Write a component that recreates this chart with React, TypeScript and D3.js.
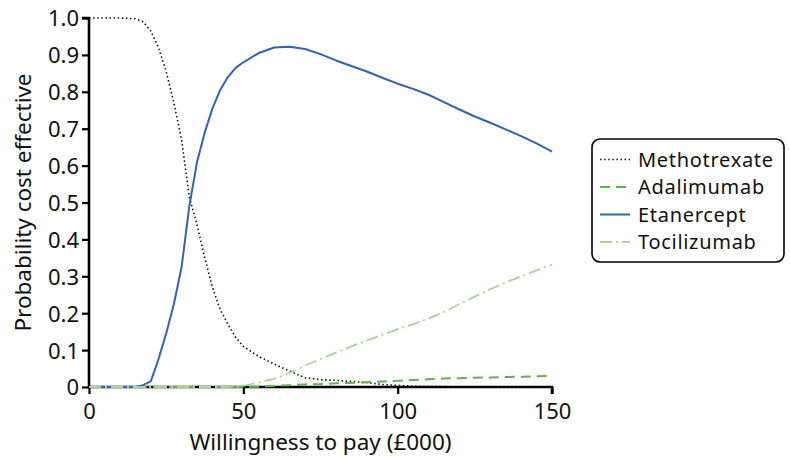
import React, { useEffect, useRef } from "react";
import * as d3 from "d3";

// willingness to pay (£000)
const wtp = [0, 5, 10, 15, 17.5, 20, 22.5, 25, 27.5, 30, 32.5, 35, 37.5, 40, 42.5, 45, 47.5, 50, 55, 60, 65, 70, 75, 80, 85, 90, 95, 100, 105, 110, 115, 120, 125, 130, 135, 140, 145, 150];

const methotrexate = [1, 1, 1, 0.998, 0.99, 0.965, 0.92, 0.855, 0.77, 0.67, 0.515, 0.44, 0.35, 0.27, 0.21, 0.17, 0.135, 0.11, 0.083, 0.062, 0.043, 0.025, 0.02, 0.018, 0.015, 0.012, 0.007, 0.004, 0.002, 0.001, 0.001, 0, 0, 0, 0, 0, 0, 0];
const adalimumab = [0, 0, 0, 0, 0, 0, 0, 0, 0, 0, 0, 0, 0, 0, 0, 0, 0, 0, 0.001, 0.003, 0.005, 0.007, 0.008, 0.01, 0.011, 0.013, 0.015, 0.017, 0.019, 0.021, 0.023, 0.024, 0.025, 0.026, 0.027, 0.028, 0.029, 0.03];
const etanercept = [0, 0, 0, 0, 0.005, 0.015, 0.075, 0.145, 0.225, 0.325, 0.49, 0.61, 0.69, 0.755, 0.805, 0.84, 0.865, 0.88, 0.905, 0.92, 0.922, 0.916, 0.902, 0.885, 0.87, 0.855, 0.838, 0.822, 0.808, 0.792, 0.772, 0.752, 0.733, 0.716, 0.698, 0.68, 0.66, 0.638];
const tocilizumab = [0, 0, 0, 0, 0, 0, 0, 0, 0, 0, 0, 0, 0, 0, 0, 0, 0.001, 0.003, 0.012, 0.022, 0.038, 0.058, 0.076, 0.093, 0.11, 0.126, 0.141, 0.157, 0.17, 0.186, 0.203, 0.225, 0.245, 0.265, 0.283, 0.3, 0.316, 0.332];

const xTicks = [0, 50, 100, 150];
const yTicks = [0, 0.1, 0.2, 0.3, 0.4, 0.5, 0.6, 0.7, 0.8, 0.9, 1.0];

const series = [
  { name: "Methotrexate", values: methotrexate, color: "#111111", dash: "1.5 2.6", width: 1.6 },
  { name: "Adalimumab", values: adalimumab, color: "#62b24e", dash: "10 6", width: 2 },
  { name: "Etanercept", values: etanercept, color: "#3462b4", dash: null, width: 2 },
  { name: "Tocilizumab", values: tocilizumab, color: "#a9d59a", dash: "12 4 2 4", width: 1.8 },
];

const W = 790;
const H = 457;
const FONT = "'Noto Sans', sans-serif";

export default function App() {
  const ref = useRef<SVGSVGElement>(null);

  useEffect(() => {
    const svg = d3.select(ref.current);
    svg.selectAll("*").remove();

    const x = d3.scaleLinear().domain([0, 150]).range([89, 552]);
    const y = d3.scaleLinear().domain([0, 1]).range([387, 18]);

    const line = d3.line<number>()
      .x((_, i) => x(wtp[i]))
      .y(d => y(d));

    // axes
    const yAxis = svg.append("g")
      .attr("transform", `translate(${x(0)},0)`)
      .call(d3.axisLeft(y).tickValues(yTicks).tickSize(7).tickPadding(3)
        .tickFormat(d => (d === 0 ? "0" : d3.format(".1f")(d as number))));
    const xAxis = svg.append("g")
      .attr("transform", `translate(0,${y(0)})`)
      .call(d3.axisBottom(x).tickValues(xTicks).tickSize(7).tickPadding(9));

    [yAxis, xAxis].forEach(g => {
      g.select(".domain").attr("stroke", "#000").attr("stroke-width", 2.6);
      g.selectAll(".tick line").attr("stroke", "#000").attr("stroke-width", 2.2);
      g.selectAll(".tick text")
        .attr("fill", "#111")
        .style("font-family", FONT)
        .style("font-size", "22px");
    });
    yAxis.select(".domain").attr("d", `M-7,${y(1)}H0V${y(0)}`);
    xAxis.select(".domain").attr("d", `M${x(0)},0H${x(150)}V7`);
    yAxis.selectAll(".tick text").attr("dy", "0.36em");

    svg.append("g")
      .selectAll("path")
      .data(series)
      .join("path")
      .attr("d", d => line(d.values))
      .attr("fill", "none")
      .attr("stroke", d => d.color)
      .attr("stroke-width", d => d.width)
      .attr("stroke-dasharray", d => d.dash)
      .attr("stroke-linejoin", "round");

    svg.append("text")
      .attr("x", (x(0) + x(150)) / 2)
      .attr("y", 450)
      .attr("text-anchor", "middle")
      .style("font-family", FONT)
      .style("font-size", "22.5px")
      .attr("fill", "#111")
      .text("Willingness to pay (£000)");

    svg.append("text")
      .attr("transform", `translate(31,${(y(0) + y(1)) / 2}) rotate(-90)`)
      .attr("text-anchor", "middle")
      .style("font-family", FONT)
      .style("font-size", "22.5px")
      .attr("fill", "#111")
      .text("Probability cost effective");

    // legend
    const legend = svg.append("g").attr("transform", "translate(592,139)");
    legend.append("rect")
      .attr("width", 192)
      .attr("height", 123)
      .attr("rx", 8)
      .attr("fill", "#fff")
      .attr("stroke", "#000")
      .attr("stroke-width", 1.6);

    const item = legend.selectAll("g.item")
      .data(series)
      .join("g")
      .attr("class", "item")
      .attr("transform", (_, i) => `translate(0,${20.5 + i * 27.5})`);
    item.append("line")
      .attr("x1", 8).attr("x2", 38)
      .attr("stroke", d => d.color)
      .attr("stroke-width", d => d.width)
      .attr("stroke-dasharray", d => d.dash);
    item.append("text")
      .attr("x", 46)
      .attr("dy", "0.36em")
      .style("font-family", FONT)
      .style("font-size", "20px")
      .style("letter-spacing", "0.7px")
      .attr("fill", "#111")
      .text(d => d.name);
  }, []);

  return (
    <svg
      ref={ref}
      width={W}
      height={H}
      style={{ display: "block", position: "absolute", left: 0, top: 0 }}
    />
  );
}
